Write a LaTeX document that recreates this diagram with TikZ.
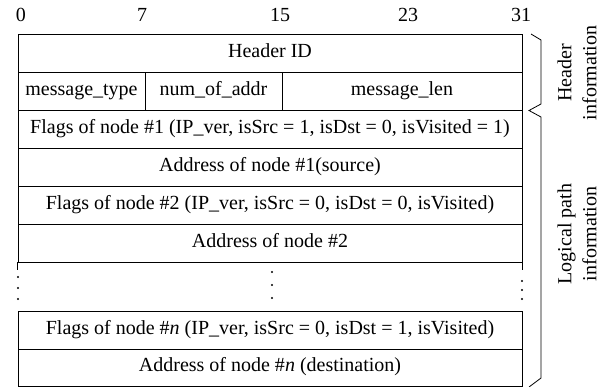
\documentclass[tikz,border=0pt]{standalone}
\usepackage{fontspec}
\setmainfont{Liberation Serif}
\begin{document}
\begin{tikzpicture}[x=1pt,y=-1pt,
  cell/.style={draw=black, line width=0.8pt, minimum height=38pt, inner sep=0pt, anchor=center,
    text height=13.5pt, text depth=4.5pt, font=\fontsize{20}{24}\selectfont},
  bitlbl/.style={font=\fontsize{20}{24}\selectfont, inner sep=0pt},
  side/.style={rotate=90, align=center, font=\fontsize{20}{25}\selectfont, inner sep=0pt},
  brk/.style={line width=0.8pt},
  dot/.style={fill=black, circle, inner sep=0pt, minimum size=2.4pt}]
\useasboundingbox (0,0) rectangle (608,387);
% bit numbers
\node[bitlbl] (b0) at (21,15) {0};
\node[bitlbl] (b7) at (142,15) {7};
\node[bitlbl] (b15) at (280,15) {15};
\node[bitlbl] (b23) at (408,15) {23};
\node[bitlbl] (b31) at (521,15) {31};
% rows
\node[cell, minimum width=504pt] (hid) at (270,53) {Header ID};
\node[cell, minimum width=127pt] (mt) at (81.5,91) {message\_type};
\node[cell, minimum width=137pt] (na) at (213.5,91) {num\_of\_addr};
\node[cell, minimum width=240pt] (ml) at (402,91) {message\_len};
\node[cell, minimum width=504pt] (f1) at (270,129) {Flags of node \#1 (IP\_ver, isSrc = 1, isDst = 0, isVisited = 1)};
\node[cell, minimum width=504pt] (a1) at (270,167) {Address of node \#1(source)};
\node[cell, minimum width=504pt] (f2) at (270,205) {Flags of node \#2 (IP\_ver, isSrc = 0, isDst = 0, isVisited)};
\node[cell, minimum width=504pt] (a2) at (270,243) {Address of node \#2};
\node[cell, minimum width=504pt] (fn) at (270,330) {Flags of node \#\textit{n} (IP\_ver, isSrc = 0, isDst = 1, isVisited)};
\node[cell, minimum width=504pt, minimum height=37pt] (an) at (270,367.5) {Address of node \#\textit{n} (destination)};
% border stubs into the dots row
\draw[brk] (a2.south west) -- ++(0,8);
\draw[brk] (a2.south east) -- ++(0,8);
% dots
\node[dot] (l1) at (18,277) {};
\node[dot] (l2) at (18,288) {};
\node[dot] (l3) at (18,299) {};
\node[dot] (m1) at (272,272) {};
\node[dot] (m2) at (272,285) {};
\node[dot] (m3) at (272,298) {};
\node[dot] (r1) at (522,281) {};
\node[dot] (r2) at (522,290) {};
\node[dot] (r3) at (522,299) {};
% brackets
\coordinate (h1) at (531,34);
\coordinate (h2) at (541,40);
\coordinate (h3) at (541,104);
\coordinate (tip) at (529,110.5);
\coordinate (g2) at (541,117);
\coordinate (g3) at (541,378);
\coordinate (g4) at (529,387);
\draw[brk] (h1) -- (h2) -- (h3) -- (tip) -- (g2) -- (g3) -- (g4);
% side labels
\node[side] (hinfo) at (577,73) {Header\\information};
\node[side] (linfo) at (577,234) {Logical path\\information};
\end{tikzpicture}
\end{document}
